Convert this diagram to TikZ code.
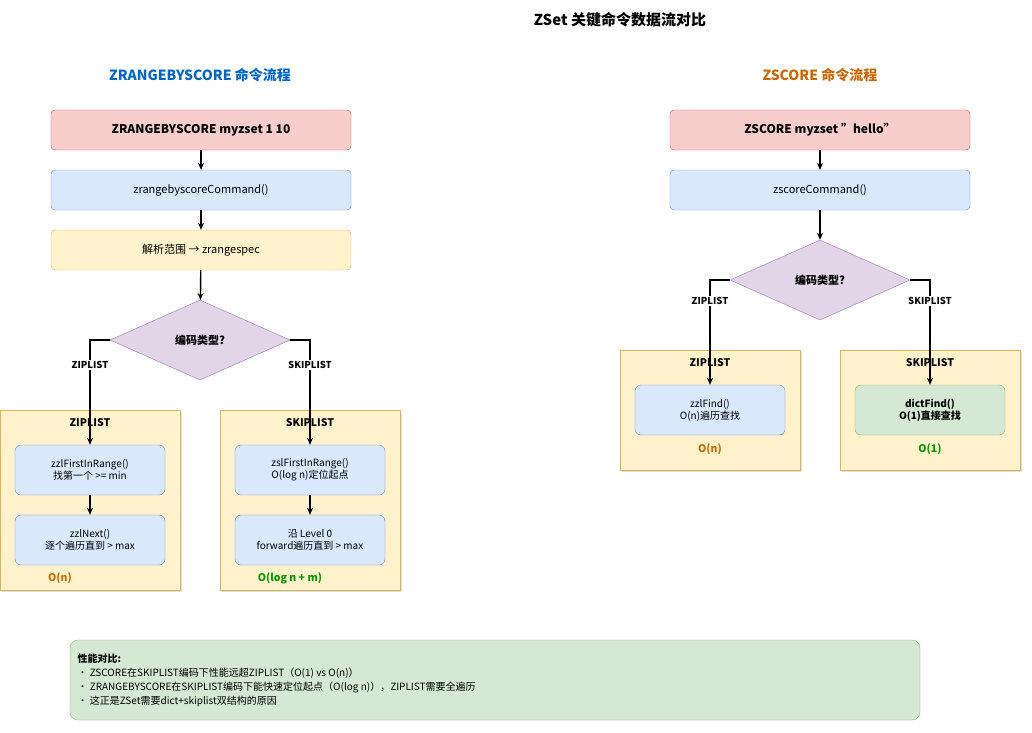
\documentclass[tikz,border=0pt]{standalone}
\usepackage{fontspec}
\setmainfont{Noto Sans CJK SC}
\usetikzlibrary{shapes.geometric,arrows.meta,shadows}
\definecolor{redf}{HTML}{F8CECC}\definecolor{redd}{HTML}{B85450}
\definecolor{bluef}{HTML}{DAE8FC}\definecolor{blued}{HTML}{6C8EBF}
\definecolor{yelf}{HTML}{FFF2CC}\definecolor{yeld}{HTML}{D6B656}
\definecolor{purf}{HTML}{E1D5E7}\definecolor{purd}{HTML}{9673A6}
\definecolor{grnf}{HTML}{D5E8D4}\definecolor{grnd}{HTML}{82B366}
\definecolor{hblue}{HTML}{0066CC}\definecolor{horange}{HTML}{CC6600}
\definecolor{hgreen}{HTML}{009900}
\tikzset{
 box/.style={draw, rounded corners=4pt, minimum width=300pt, minimum height=40pt, font=\fontsize{11}{13}\selectfont, inner sep=0pt},
 cmd/.style={box, fill=redf, draw=redd, font=\bfseries\fontsize{12}{14}\selectfont},
 func/.style={box, fill=bluef, draw=blued},
 parse/.style={box, fill=yelf, draw=yeld},
 dec/.style={diamond, aspect=2.25, draw=purd, fill=purf, minimum width=180pt, minimum height=80pt, inner sep=0pt, font=\bfseries\fontsize{11}{13}\selectfont},
 cont/.style={draw=yeld, fill=yelf, minimum width=180pt, drop shadow={shadow xshift=2pt,shadow yshift=-2pt,opacity=0.25}},
 inner/.style={draw=blued, fill=bluef, rounded corners=6pt, minimum width=150pt, minimum height=50pt, align=center, font=\fontsize{10}{12}\selectfont},
 ctitle/.style={font=\bfseries\fontsize{10.5}{12}\selectfont},
 elab/.style={fill=white, inner sep=1pt, font=\bfseries\fontsize{9.5}{11}\selectfont},
 arr/.style={-{Stealth[length=7pt,width=6pt]}, line width=1.4pt},
}
\begin{document}
\begin{tikzpicture}[x=1pt,y=-1pt]
\useasboundingbox (0,0) rectangle (1032,732);

\node[font=\bfseries\fontsize{15}{18}\selectfont] (title) at (620,20) {ZSet 关键命令数据流对比};
\node[font=\bfseries\fontsize{14}{16}\selectfont, text=hblue] (lhead) at (200,75) {ZRANGEBYSCORE 命令流程};
\node[font=\bfseries\fontsize{14}{16}\selectfont, text=horange] (rhead) at (820,75) {ZSCORE 命令流程};

% ZRANGEBYSCORE
\node[cmd] (lcmd) at (201,130) {ZRANGEBYSCORE myzset 1 10};
\node[func] (lfunc) at (201,190) {zrangebyscoreCommand()};
\node[parse] (lparse) at (201,250) {解析范围 → zrangespec};
\node[dec] (ldec) at (200,340) {编码类型?};

\node[cont, minimum height=180pt] (lzip) at (90,500) {};
\node[cont, minimum height=180pt] (lskip) at (310,500) {};
\node[ctitle] at (90,423) {ZIPLIST};
\node[ctitle] at (310,423) {SKIPLIST};
\node[inner] (zfirst) at (90,470) {zzlFirstInRange()\\找第一个 >= min};
\node[inner] (znext) at (90,540) {zzlNext()\\逐个遍历直到 > max};
\node[inner] (sfirst) at (310,470) {zslFirstInRange()\\O(log n)定位起点};
\node[inner] (snext) at (310,540) {沿 Level 0\\forward遍历直到 > max};
\node[ctitle, text=horange] at (60,578) {O(n)};
\node[ctitle, text=hgreen] at (290,578) {O(log n + m)};

\draw[arr] (lcmd) -- (lfunc);
\draw[arr] (lfunc) -- (lparse);
\draw[arr] (lparse) -- (ldec);
\draw[arr] (ldec.west) -| node[elab, pos=0.62] {ZIPLIST} (zfirst.north);
\draw[arr] (ldec.east) -| node[elab, pos=0.62] {SKIPLIST} (sfirst.north);
\draw[arr] (zfirst) -- (znext);
\draw[arr] (sfirst) -- (snext);

% ZSCORE
\node[cmd] (rcmd) at (820,130) {ZSCORE myzset "hello"};
\node[func] (rfunc) at (820,190) {zscoreCommand()};
\node[dec] (rdec) at (820,280) {编码类型?};

\node[cont, minimum height=120pt] (rzip) at (710,410) {};
\node[cont, minimum height=120pt] (rskip) at (930,410) {};
\node[ctitle] at (710,363) {ZIPLIST};
\node[ctitle] at (930,363) {SKIPLIST};
\node[inner] (zfind) at (710,410) {zzlFind()\\O(n)遍历查找};
\node[inner, fill=grnf, draw=grnd, font=\bfseries\fontsize{10}{12}\selectfont] (dfind) at (930,410) {dictFind()\\O(1)直接查找};
\node[ctitle, text=horange] at (710,449) {O(n)};
\node[ctitle, text=hgreen] at (930,449) {O(1)};

\draw[arr] (rcmd) -- (rfunc);
\draw[arr] (rfunc) -- (rdec);
\draw[arr] (rdec.west) -| node[elab, pos=0.6] {ZIPLIST} (zfind.north);
\draw[arr] (rdec.east) -| node[elab, pos=0.6] {SKIPLIST} (dfind.north);

% note
\node[draw=grnd, fill=grnf, rounded corners=8pt, minimum width=850pt, minimum height=80pt] (note) at (495,680) {};
\node[anchor=north west, align=left, font=\fontsize{10}{14}\selectfont] (notetext) at (74,650)
 {\textbf{性能对比:}\\
 • ZSCORE在SKIPLIST编码下性能远超ZIPLIST（O(1) vs O(n)）\\
 • ZRANGEBYSCORE在SKIPLIST编码下能快速定位起点（O(log n)），ZIPLIST需要全遍历\\
 • 这正是ZSet需要dict+skiplist双结构的原因};
\end{tikzpicture}
\end{document}
